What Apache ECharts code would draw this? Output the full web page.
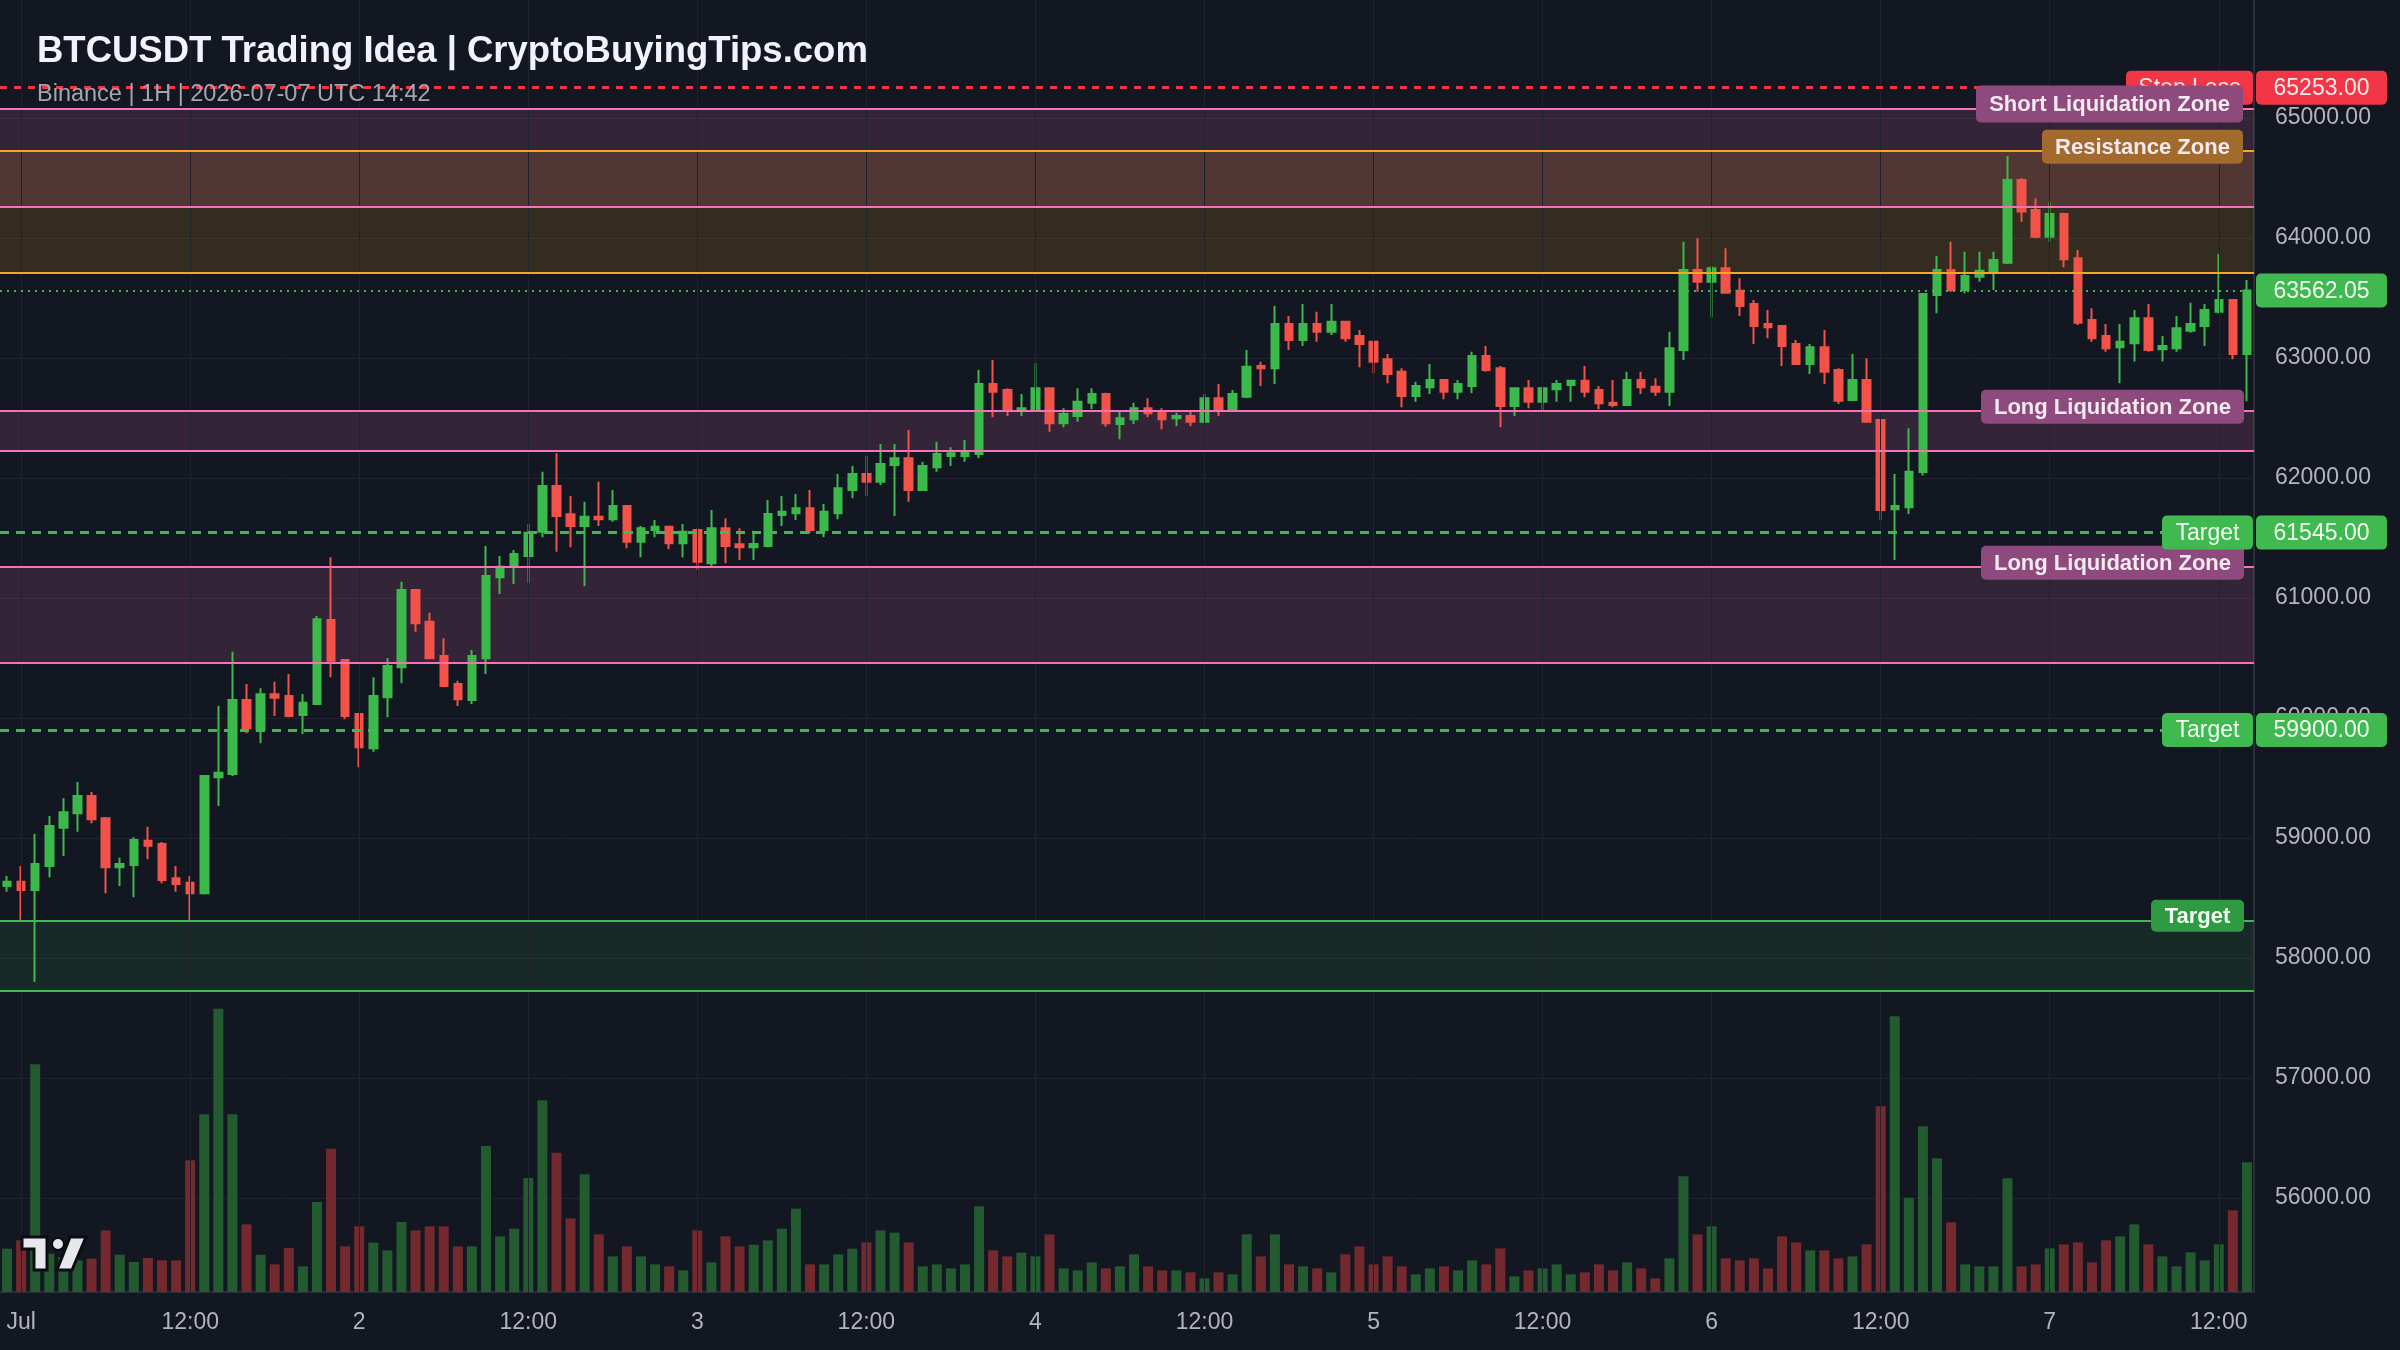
<!DOCTYPE html>
<html>
<head>
<meta charset="utf-8">
<title>BTCUSDT Trading Idea</title>
<script src="https://cdn.jsdelivr.net/npm/echarts@6/dist/echarts.min.js"></script>
<style>
  html, body { margin: 0; padding: 0; background: #131722; }
  #chart { width: 2400px; height: 1350px; }
</style>
</head>
<body>
<div id="chart"></div>
<script>
// 1H candles, first visible bar is 2026-06-30 23:00 UTC
const opens = [
  58600, 58636, 58567, 58767, 59086, 59206, 59350, 59164, 58756, 58775,
  58978, 58950, 58664, 58628, 58539, 59506, 59533, 60150, 59906, 60197,
  60183, 60025, 60117, 60817, 60483, 60033, 59747, 60172, 60422, 61067,
  60803, 60517, 60283, 60150, 60497, 61172, 61267, 61350, 61553, 61933,
  61697, 61600, 61678, 61656, 61767, 61469, 61567, 61594, 61456, 61567,
  61289, 61581, 61447, 61422, 61433, 61692, 61706, 61747, 61567, 61706,
  61900, 62033, 61969, 62108, 62164, 61900, 62089, 62183, 62183, 62200,
  62783, 62733, 62567, 62567, 62747, 62456, 62517, 62628, 62700, 62450,
  62489, 62581, 62544, 62497, 62517, 62469, 62664, 62561, 62678, 62933,
  62914, 63283, 63150, 63283, 63219, 63303, 63183, 63136, 62989, 62886,
  62683, 62756, 62817, 62719, 62767, 63017, 62914, 62600, 62747, 62636,
  62739, 62775, 62811, 62733, 62628, 62608, 62817, 62761, 62719, 63067,
  63733, 63636, 63747, 63561, 63450, 63283, 63267, 63117, 62950, 63089,
  62900, 62650, 62817, 62483, 61739, 61756, 62050, 63525, 63733, 63567,
  63678, 63720, 63794, 64483, 64233, 64011, 64200, 63831, 63317, 63183,
  63089, 63122, 63331, 63072, 63081, 63228, 63267, 63386, 63483, 63033
];
const closes = [
  58636, 58567, 58783, 59100, 59214, 59350, 59156, 58756, 58783, 58983,
  58936, 58650, 58617, 58539, 59517, 59544, 60150, 59914, 60197, 60169,
  60017, 60128, 60822, 60478, 60017, 59756, 60183, 60433, 61067, 60789,
  60497, 60267, 60156, 60517, 61183, 61261, 61367, 61544, 61933, 61683,
  61600, 61678, 61656, 61767, 61469, 61581, 61594, 61456, 61553, 61303,
  61581, 61433, 61422, 61450, 61700, 61719, 61747, 61567, 61719, 61914,
  62033, 61969, 62117, 62164, 61900, 62100, 62200, 62206, 62219, 62783,
  62719, 62567, 62581, 62747, 62456, 62533, 62636, 62700, 62456, 62497,
  62581, 62539, 62489, 62517, 62469, 62664, 62561, 62700, 62928, 62914,
  63283, 63150, 63283, 63219, 63303, 63164, 63117, 62969, 62867, 62683,
  62767, 62817, 62719, 62783, 63017, 62900, 62600, 62747, 62636, 62747,
  62783, 62811, 62719, 62622, 62608, 62817, 62756, 62719, 63081, 63733,
  63636, 63747, 63544, 63433, 63267, 63256, 63100, 62950, 63089, 62886,
  62644, 62817, 62469, 61733, 61767, 62053, 63533, 63733, 63567, 63683,
  63728, 63817, 64483, 64220, 64011, 64200, 63822, 63294, 63164, 63081,
  63136, 63331, 63067, 63100, 63247, 63283, 63400, 63483, 63033, 63562.05
];
const highs = [
  58683, 58767, 59033, 59183, 59331, 59467, 59383, 59175, 58836, 59006,
  59094, 58967, 58767, 58683, 59525, 60100, 60553, 60283, 60247, 60303,
  60367, 60200, 60850, 61339, 60489, 60040, 60339, 60497, 61136, 61075,
  60878, 60664, 60311, 60567, 61433, 61350, 61400, 61617, 62053, 62206,
  61850, 61803, 61969, 61900, 61775, 61600, 61650, 61600, 61617, 61580,
  61733, 61664, 61581, 61560, 61817, 61850, 61867, 61900, 61783, 62033,
  62100, 62183, 62283, 62283, 62400, 62136, 62303, 62256, 62317, 62900,
  62983, 62747, 62700, 62956, 62750, 62581, 62747, 62747, 62710, 62567,
  62628, 62664, 62581, 62544, 62553, 62700, 62783, 62733, 63067, 62969,
  63433, 63350, 63450, 63386, 63450, 63310, 63233, 63140, 63033, 62914,
  62803, 62950, 62820, 62817, 63053, 63100, 62933, 62750, 62817, 62761,
  62817, 62817, 62933, 62767, 62817, 62886, 62886, 62831, 63219, 63969,
  63997, 63767, 63914, 63664, 63483, 63400, 63270, 63150, 63117, 63233,
  62914, 63033, 62997, 62490, 62033, 62414, 63540, 63850, 63969, 63886,
  63886, 63886, 64683, 64497, 64331, 64303, 64210, 63900, 63414, 63283,
  63283, 63400, 63450, 63183, 63350, 63461, 63450, 63867, 63490, 63650
];
const lows = [
  58553, 58317, 57803, 58670, 58850, 59053, 59122, 58539, 58600, 58506,
  58822, 58622, 58553, 58317, 58530, 59267, 59517, 59872, 59789, 60017,
  60006, 59867, 60110, 60339, 59989, 59589, 59719, 60006, 60289, 60719,
  60489, 60256, 60100, 60117, 60367, 61033, 61117, 61128, 61506, 61386,
  61422, 61100, 61600, 61636, 61414, 61339, 61506, 61406, 61339, 61233,
  61267, 61289, 61317, 61317, 61422, 61600, 61650, 61539, 61506, 61656,
  61831, 61850, 61942, 61683, 61803, 61894, 62053, 62100, 62136, 62164,
  62506, 62517, 62517, 62561, 62386, 62422, 62469, 62572, 62428, 62322,
  62450, 62506, 62406, 62433, 62433, 62461, 62517, 62555, 62664, 62767,
  62783, 63067, 63100, 63136, 63192, 63136, 62922, 62872, 62789, 62589,
  62636, 62700, 62656, 62656, 62706, 62886, 62422, 62517, 62581, 62567,
  62636, 62636, 62672, 62572, 62589, 62600, 62700, 62683, 62600, 62983,
  63553, 63339, 63540, 63350, 63117, 63164, 62933, 62945, 62867, 62783,
  62617, 62645, 62460, 61650, 61317, 61700, 62020, 63372, 63553, 63539,
  63636, 63567, 63783, 64136, 63997, 63969, 63756, 63275, 63136, 63053,
  62789, 62970, 63053, 62970, 63053, 63211, 63100, 63372, 62989, 62640
];
const volumes = [
  130, 155, 683, 115, 105, 95, 100, 185, 112, 90,
  102, 95, 95, 395, 533, 850, 533, 203, 112, 83,
  132, 77, 270, 430, 137, 197, 148, 125, 210, 185,
  197, 197, 137, 137, 438, 167, 190, 342, 575, 418,
  221, 353, 173, 107, 137, 107, 83, 77, 65, 185,
  89, 167, 137, 142, 155, 190, 250, 83, 83, 113,
  130, 149, 185, 178, 149, 77, 83, 71, 83, 257,
  125, 107, 118, 107, 173, 71, 65, 89, 71, 77,
  113, 77, 65, 65, 59, 41, 59, 53, 173, 107,
  173, 83, 77, 71, 59, 113, 137, 83, 107, 77,
  53, 71, 77, 65, 95, 83, 131, 47, 65, 71,
  83, 53, 59, 83, 65, 89, 71, 41, 101, 347,
  173, 197, 101, 95, 101, 71, 167, 149, 125, 125,
  101, 107, 143, 557, 827, 283, 497, 401, 209, 83,
  77, 77, 341, 77, 83, 131, 143, 149, 89, 155,
  167, 203, 143, 107, 77, 119, 95, 143, 245, 389
];

// trade plan levels
const stopLoss = 65253;
const lastPrice = 63562.05;
const targets = [61545, 59900];
const shortLiqZone = [64261, 65075];
const resistanceZone = [63711, 64728];
const longLiqZones = [[62227, 62561], [60461, 61261]];
const targetZone = [57728, 58311];

// visible price window
const priceMin = 55216.67;
const priceMax = 65983.33;

const startUtc = Date.UTC(2026, 5, 30, 23);
const times = opens.map((_, i) =>
  new Date(startUtc + i * 3600e3).toISOString().slice(0, 16).replace('T', ' '));
const hourOf = s => +s.slice(11, 13);
const dayOf = s => +s.slice(8, 10);
const tickIdx = times.map((t, i) => (hourOf(t) % 12 === 0 ? i : -1)).filter(i => i >= 0);

const FONT = '"Liberation Sans", Arial, Helvetica, sans-serif';
const bg = '#131722';
const gridColor = '#1f2330';
const axisText = '#b2b5be';
const up = '#3cb94b';
const down = '#f25248';
const green = '#3fb950';
const red = '#f23645';
const pink = '#f472b6';
const orange = '#f5a623';

const chart = echarts.init(document.getElementById('chart'));

const option = {
  backgroundColor: bg,
  animation: false,
  title: {
    text: 'BTCUSDT Trading Idea | CryptoBuyingTips.com',
    subtext: 'Binance | 1H | 2026-07-07 UTC 14:42',
    left: 37,
    top: 34,
    padding: 0,
    itemGap: 12,
    textStyle: { color: '#f0f3fa', fontSize: 36.5, fontWeight: 'bold', lineHeight: 36, fontFamily: FONT },
    subtextStyle: { color: '#a3a6af', fontSize: 23.5, lineHeight: 24, fontFamily: FONT },
    z: 20
  },
  grid: { left: 0, right: 146, top: 0, bottom: 58, outerBoundsMode: 'none' },
  xAxis: {
    type: 'category',
    data: times,
    boundaryGap: true,
    axisLine: { show: true, lineStyle: { color: '#2a2e39', width: 2 } },
    axisTick: { show: false },
    axisLabel: {
      interval: (i, v) => hourOf(v) % 12 === 0,
      formatter: v => (hourOf(v) === 12 ? '12:00' : dayOf(v) === 1 ? 'Jul' : String(dayOf(v))),
      color: axisText,
      fontSize: 23,
      fontFamily: FONT,
      margin: 19
    },
    splitLine: { show: false }
  },
  yAxis: [
    {
      type: 'value',
      position: 'right',
      min: priceMin,
      max: priceMax,
      splitNumber: 10,
      minInterval: 1000,
      maxInterval: 1000,
      axisLine: { show: true, lineStyle: { color: '#2a2e39', width: 2 } },
      axisTick: { show: false },
      axisLabel: {
        color: axisText,
        fontSize: 23,
        fontFamily: FONT,
        margin: 21,
        padding: [6, 0, 0, 0],
        showMinLabel: false,
        showMaxLabel: false,
        formatter: v => (Math.abs(v % 1000) < 1e-6 ? v.toFixed(2) : '')
      },
      splitLine: { lineStyle: { color: gridColor, width: 1 }, showMinLine: false, showMaxLine: false }
    },
    { type: 'value', min: 0, max: 3876, show: false }
  ],
  series: [
    {
      // vertical grid lines on the 00:00 / 12:00 candles
      type: 'line',
      data: closes,
      symbol: 'none',
      silent: true,
      lineStyle: { opacity: 0 },
      z: 1,
      markLine: {
        silent: true,
        symbol: ['none', 'none'],
        label: { show: false },
        lineStyle: { color: gridColor, width: 1, type: 'solid' },
        data: tickIdx.map(i => ({ xAxis: i }))
      }
    },
    {
      type: 'bar',
      name: 'Volume',
      yAxisIndex: 1,
      data: volumes.map((v, i) => ({
        value: v,
        itemStyle: { color: closes[i] >= opens[i] ? '#235a2f' : '#73292e' }
      })),
      barWidth: 10,
      silent: true,
      z: 2
    },
    {
      type: 'candlestick',
      name: 'BTCUSDT',
      data: opens.map((o, i) => [o, closes[i], lows[i], highs[i]]),
      barWidth: 8,
      silent: true,
      z: 3,
      itemStyle: { color: up, color0: down, borderColor: up, borderColor0: down, borderWidth: 2 }
    },
    {
      // zones and levels drawn over the candles
      type: 'line',
      data: closes,
      symbol: 'none',
      silent: true,
      lineStyle: { opacity: 0 },
      z: 4,
      markArea: {
        silent: true,
        data: [
          [{ yAxis: shortLiqZone[0], itemStyle: { color: 'rgba(244,114,182,0.15)' } }, { yAxis: shortLiqZone[1] }],
          [{ yAxis: resistanceZone[0], itemStyle: { color: 'rgba(245,166,35,0.15)' } }, { yAxis: resistanceZone[1] }],
          [{ yAxis: longLiqZones[0][0], itemStyle: { color: 'rgba(244,114,182,0.15)' } }, { yAxis: longLiqZones[0][1] }],
          [{ yAxis: longLiqZones[1][0], itemStyle: { color: 'rgba(244,114,182,0.15)' } }, { yAxis: longLiqZones[1][1] }],
          [{ yAxis: targetZone[0], itemStyle: { color: 'rgba(63,185,80,0.12)' } }, { yAxis: targetZone[1] }]
        ]
      },
      markLine: {
        silent: true,
        symbol: ['none', 'none'],
        label: { show: false },
        data: [
          ...shortLiqZone.map(p => ({ yAxis: p, lineStyle: { color: pink, width: 2, type: 'solid' } })),
          ...resistanceZone.map(p => ({ yAxis: p, lineStyle: { color: orange, width: 2, type: 'solid' } })),
          ...longLiqZones.flat().map(p => ({ yAxis: p, lineStyle: { color: pink, width: 2, type: 'solid' } })),
          ...targetZone.map(p => ({ yAxis: p, lineStyle: { color: green, width: 2, type: 'solid' } })),
          { yAxis: stopLoss, lineStyle: { color: red, width: 3, type: [7, 7] } },
          { yAxis: lastPrice, lineStyle: { color: green, width: 2, type: [2, 5] } },
          ...targets.map(p => ({ yAxis: p, lineStyle: { color: green, width: 3, type: [9, 7] } }))
        ]
      }
    }
  ]
};

chart.setOption(option);

// labels pinned to the price levels
const py = p => chart.convertToPixel({ yAxisIndex: 0 }, p);
const plotRight = 2254;
let zTop = 100;

function tag(left, width, yc, height, fill, text, font, textColor) {
  zTop += 2;
  return {
    type: 'group',
    z: zTop,
    children: [
      { type: 'rect', z: zTop, shape: { x: left, y: yc - height / 2, width, height, r: 5 }, style: { fill } },
      {
        type: 'text',
        z: zTop + 1,
        style: { x: left + width / 2, y: yc + 1, text, fill: textColor, font, align: 'center', verticalAlign: 'middle' }
      }
    ]
  };
}

const priceFont = '23px ' + FONT;
const zoneFont = 'bold 22px ' + FONT;
const zoneText = '#f3e9f1';

const graphics = [
  tag(plotRight + 2, 131, py(stopLoss), 34, red, stopLoss.toFixed(2), priceFont, '#ffe9ea'),
  tag(plotRight + 2, 131, py(lastPrice), 34, green, lastPrice.toFixed(2), priceFont, '#f0fff2'),
  ...targets.map(p => tag(plotRight + 2, 131, py(p), 34, green, p.toFixed(2), priceFont, '#f0fff2')),
  tag(2126, 127, py(stopLoss), 34, red, 'Stop Loss', priceFont, '#ffe9ea'),
  tag(1976, 267, py(shortLiqZone[1]) - 5, 37, '#8e4a7c', 'Short Liquidation Zone', zoneFont, zoneText),
  tag(2042, 201, py(resistanceZone[1]) - 4, 34, '#a36a2e', 'Resistance Zone', zoneFont, zoneText),
  ...longLiqZones.map(z => tag(1981, 263, py(z[1]) - 4, 34, '#8e4a7c', 'Long Liquidation Zone', zoneFont, zoneText)),
  ...targets.map(p => tag(2162, 91, py(p), 34, green, 'Target', priceFont, '#f0fff2')),
  tag(2151, 93, py(targetZone[1]) - 5, 32, '#2f9a43', 'Target', zoneFont, '#f0fff2'),
  {
    // TradingView mark
    type: 'group',
    z: 200,
    children: [
      { type: 'polygon', z: 200, shape: { points: [[22, 1237], [47, 1237], [47, 1270], [34, 1270], [34, 1249], [22, 1249]] },
        style: { fill: '#e6e8ee', stroke: '#0b0d13', lineWidth: 3 } },
      { type: 'circle', z: 200, shape: { cx: 58, cy: 1244, r: 6 }, style: { fill: '#e6e8ee', stroke: '#0b0d13', lineWidth: 2 } },
      { type: 'polygon', z: 200, shape: { points: [[70, 1237], [86, 1237], [72, 1270], [57, 1270]] },
        style: { fill: '#e6e8ee', stroke: '#0b0d13', lineWidth: 3 } }
    ]
  }
];

chart.setOption({ graphic: graphics });
</script>
</body>
</html>
